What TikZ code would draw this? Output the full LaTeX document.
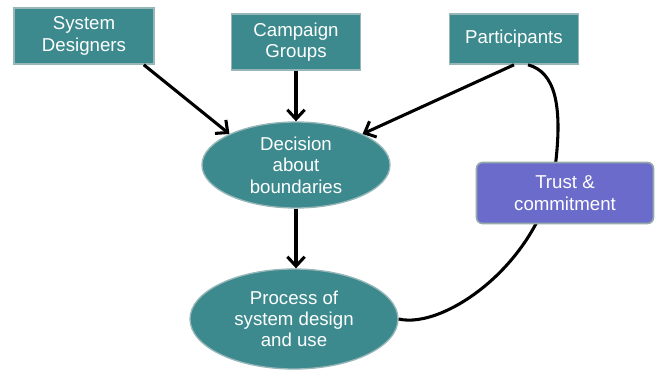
\documentclass[tikz,border=0pt]{standalone}
\usepackage{fontspec}
\setmainfont{Liberation Sans}
\usetikzlibrary{shapes.geometric,arrows.meta}

\definecolor{tealbox}{RGB}{60,138,142}
\definecolor{tealedge}{RGB}{150,182,184}
\definecolor{trustfill}{RGB}{107,107,204}
\definecolor{trustedge}{RGB}{150,170,170}

\tikzset{every picture/.style={line width=0.75pt}}
\tikzset{
  actorbox/.style={draw=tealedge,fill=tealbox,line width=1.2pt,text=white,align=center,inner sep=0pt,font=\fontsize{14}{16}\selectfont},
  stagebubble/.style={ellipse,draw=tealedge,fill=tealbox,line width=1pt,text=white,align=center,inner sep=0pt,font=\fontsize{14}{16}\selectfont},
  trustbox/.style={draw=trustedge,fill=trustfill,rounded corners=4.5pt,line width=1.2pt,text=white,align=center,inner sep=0pt,font=\fontsize{14}{16}\selectfont},
  flowarrow/.style={line width=2.3pt,-{Straight Barb[length=7pt,width=13pt,line width=2.3pt]}},
}

\begin{document}
\begin{tikzpicture}[x=0.75pt,y=0.75pt,yscale=-1,xscale=1]
\useasboundingbox (0,0) rectangle (655,370);

% Boxes
\node [actorbox,minimum width=105pt,minimum height=42pt] (sd) at (84,36) {System\\Designers};
\node [actorbox,minimum width=96.75pt,minimum height=42pt] (camp) at (296,42) {Campaign\\Groups};
\node [actorbox,minimum width=96.75pt,minimum height=37.5pt] (part) at (514,39) {Participants};

% Ellipses
\node [stagebubble,minimum width=141pt,minimum height=64.5pt] (dec) at (296,165) {Decision\\about\\boundaries};
\node [stagebubble,minimum width=156pt,minimum height=75pt] (proc) at (294,319) {Process of\\system design\\and use};

%Straight Lines
\draw [flowarrow] ([xshift=-8.25pt]sd.south east) -- (dec.155);
\draw [flowarrow] (camp.south) -- (dec.north);
\draw [flowarrow] (part.south) -- (dec.25);
\draw [flowarrow] (dec.south) -- (dec.south |- proc.north);

%Curve Lines
\draw [line width=2.3pt] ([xshift=10.5pt]part.south) .. controls (555,72) and (562,105) .. (556,160) .. controls (545,260) and (445,330) .. (proc.east);

% Text Node
\node [trustbox,minimum width=132.75pt,minimum height=45.75pt] (trust) at (565,193) {Trust \&\\commitment};

\end{tikzpicture}
\end{document}
